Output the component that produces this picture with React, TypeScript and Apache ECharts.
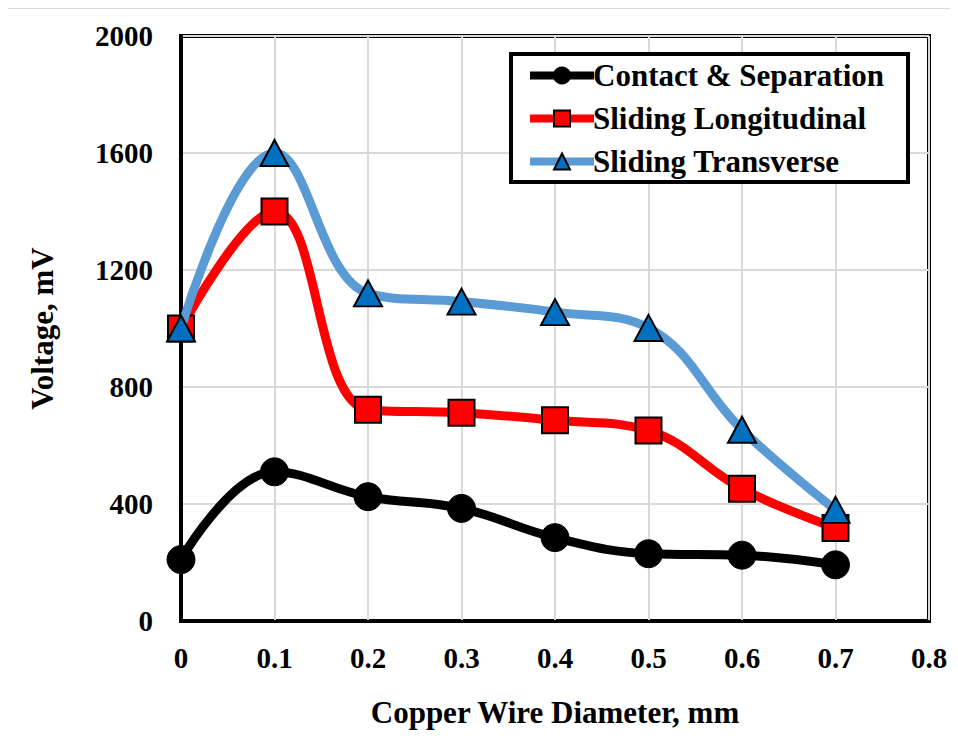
import React, { useEffect, useRef } from "react";
import * as echarts from "echarts";

const diameters = [0, 0.1, 0.2, 0.3, 0.4, 0.5, 0.6, 0.7];
const contactSeparation = [210, 510, 425, 385, 285, 230, 225, 192];
const slidingLongitudinal = [1000, 1400, 722, 712, 686, 651, 452, 318];
const slidingTransverse = [1000, 1600, 1120, 1092, 1056, 1002, 654, 380];
const seriesNames = ["Contact & Separation", "Sliding Longitudinal", "Sliding Transverse"];

const FONT = "'Liberation Serif', 'Times New Roman', serif";

export default function App() {
  const ref = useRef<HTMLDivElement>(null);
  useEffect(() => {
    if (!ref.current) return;
    const chart = echarts.init(ref.current, undefined, { renderer: "svg" });
    const pair = (ys: number[]) => diameters.map((x, i) => [x, ys[i]]);
    chart.setOption({
      animation: false,
      backgroundColor: "#ffffff",
      grid: {
        left: 181,
        right: 29,
        top: 36,
        bottom: 119,
        show: true,
        borderColor: "#000000",
        borderWidth: 4,
      },
      graphic: [
        {
          type: "polyline",
          shape: { points: [[5, 740], [5, 8], [958, 8]] },
          style: { fill: "none", stroke: "#d9d9d9", lineWidth: 2 },
          z: 0,
        },
        {
          type: "rect",
          shape: { x: 511, y: 54, width: 397, height: 128 },
          style: { fill: "#ffffff", stroke: "#000000", lineWidth: 4 },
          z: 5,
        },
      ],
      legend: {
        orient: "vertical",
        left: 526,
        top: 60,
        z: 6,
        itemWidth: 64,
        itemHeight: 20,
        itemGap: 12,
        padding: 0,
        data: seriesNames,
        lineStyle: { width: 8 },
        itemStyle: { borderWidth: 2 },
        textStyle: {
          fontFamily: FONT,
          fontWeight: "bold",
          fontSize: 31,
          color: "#000000",
          padding: [0, 0, 0, -6],
        },
      },
      xAxis: {
        type: "value",
        min: 0,
        max: 0.8,
        interval: 0.1,
        name: "Copper Wire Diameter, mm",
        nameLocation: "middle",
        nameGap: 76,
        nameTextStyle: { fontFamily: FONT, fontWeight: "bold", fontSize: 31, color: "#000" },
        axisLine: { show: true, lineStyle: { color: "#000", width: 3 } },
        axisTick: { show: false },
        axisLabel: {
          fontFamily: FONT,
          fontWeight: "bold",
          fontSize: 29,
          color: "#000",
          margin: 22,
          formatter: (v: number) => String(Math.round(v * 10) / 10),
        },
        splitLine: { show: true, lineStyle: { color: "#d9d9d9", width: 2 } },
      },
      yAxis: {
        type: "value",
        min: 0,
        max: 2000,
        interval: 400,
        name: "Voltage, mV",
        nameLocation: "middle",
        nameGap: 123,
        nameTextStyle: { fontFamily: FONT, fontWeight: "bold", fontSize: 31, color: "#000" },
        axisLine: { show: true, lineStyle: { color: "#000", width: 3 } },
        axisTick: { show: false },
        axisLabel: {
          fontFamily: FONT,
          fontWeight: "bold",
          fontSize: 29,
          color: "#000",
          margin: 28,
          formatter: (v: number) => String(v),
        },
        splitLine: { show: true, lineStyle: { color: "#d9d9d9", width: 2 } },
      },
      series: [
        {
          name: seriesNames[0],
          type: "line",
          data: pair(contactSeparation),
          smooth: 0.4,
          symbol: "circle",
          symbolSize: 28,
          lineStyle: { color: "#000000", width: 9 },
          itemStyle: { color: "#000000", borderColor: "#000000", borderWidth: 1 },
          z: 2,
        },
        {
          name: seriesNames[1],
          type: "line",
          data: pair(slidingLongitudinal),
          smooth: 0.4,
          symbol: "rect",
          symbolSize: 26,
          lineStyle: { color: "#ff0000", width: 9 },
          itemStyle: { color: "#ff0000", borderColor: "#000000", borderWidth: 2 },
          z: 3,
        },
        {
          name: seriesNames[2],
          type: "line",
          data: pair(slidingTransverse),
          smooth: 0.4,
          symbol: "triangle",
          symbolSize: [28, 26],
          lineStyle: { color: "#5b9bd5", width: 9 },
          itemStyle: { color: "#0070c0", borderColor: "#000000", borderWidth: 2 },
          z: 4,
        },
      ],
    });
    return () => chart.dispose();
  }, []);
  return <div ref={ref} style={{ width: 958, height: 740, margin: -8 }} />;
}
